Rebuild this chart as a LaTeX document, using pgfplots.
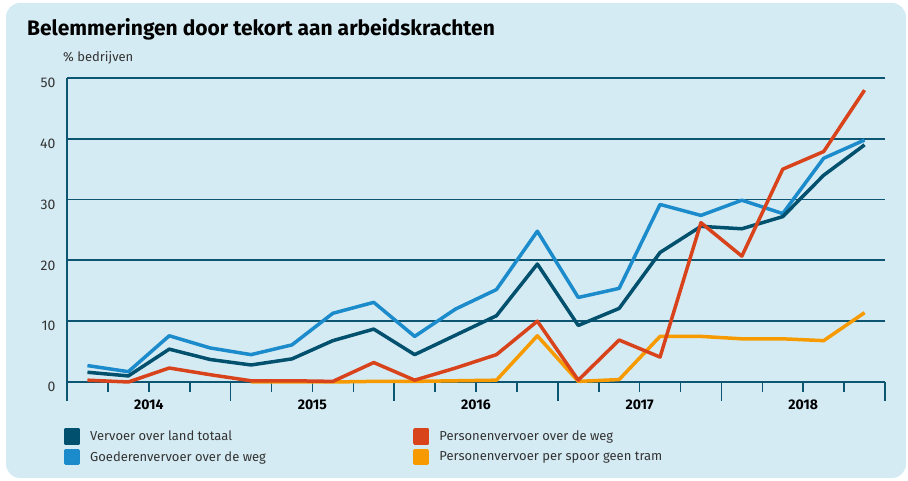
\documentclass[border=0pt]{standalone}
\usepackage{fontspec}
\setmainfont{Fira Sans}
\usepackage{pgfplots}
\pgfplotsset{compat=1.18}
\definecolor{bgc}{HTML}{D5EBF3}
\definecolor{gridc}{HTML}{0D5570}
\definecolor{totc}{HTML}{00506E}
\definecolor{goedc}{HTML}{1B8BCB}
\definecolor{perwc}{HTML}{D8431C}
\definecolor{spoorc}{HTML}{F79A00}
\definecolor{txtc}{HTML}{333333}

% quarters 2014K1 .. 2018K4, plotted at 0.5, 1.5, ...
\pgfplotstableread{
x    tot   goed  perw  spoor
0.5  1.6   2.7   0.3   nan
1.5  1.0   1.7   0.0   nan
2.5  5.4   7.6   2.3   nan
3.5  3.7   5.6   1.2   nan
4.5  2.8   4.5   0.2   0.0
5.5  3.8   6.1   0.2   0.0
6.5  6.8   11.3  0.1   0.0
7.5  8.7   13.1  3.2   0.1
8.5  4.5   7.5   0.3   0.1
9.5  7.7   12.0  2.3   0.2
10.5 10.9  15.2  4.5   0.3
11.5 19.4  24.8  10.0  7.6
12.5 9.3   13.9  0.3   0.1
13.5 12.1  15.4  6.9   0.4
14.5 21.3  29.2  4.1   7.5
15.5 25.6  27.4  26.2  7.5
16.5 25.2  29.9  20.7  7.1
17.5 27.2  27.7  35.0  7.1
18.5 34.0  36.8  37.9  6.8
19.5 39.0  39.8  48.0  11.4
}\quarters

\begin{document}
\begin{tikzpicture}
\useasboundingbox (0pt,0pt) rectangle (908pt,481pt);
\fill[bgc, rounded corners=14pt] (6pt,3pt) rectangle (906pt,478pt);
\node[anchor=west, font=\bfseries\fontsize{21}{25}\selectfont, inner sep=0] at (27pt,452pt) {Belemmeringen door tekort aan arbeidskrachten};
\node[anchor=west, font=\fontsize{13}{15}\selectfont, text=txtc, inner sep=0] at (63pt,423pt) {\% bedrijven};
\begin{axis}[
  at={(67pt,99pt)}, anchor=south west,
  scale only axis, width=818pt, height=304pt,
  xmin=0, xmax=20, ymin=0, ymax=50,
  axis x line=bottom, axis y line=left,
  axis line style={gridc, line width=2pt, -},
  clip=false,
  ytick={0,10,...,50},
  ymajorgrids, grid style={gridc, line width=1.8pt},
  ytick style={draw=none},
  yticklabel style={font=\fontsize{14}{16}\selectfont, text=txtc, xshift=-8pt, yshift=-5pt},
  /pgf/number format/assume math mode=true,
  xtick={2,6,10,14,18},
  xticklabels={2014,2015,2016,2017,2018},
  xticklabel style={font=\bfseries\fontsize{14}{16}\selectfont, text=black, yshift=-14pt},
  major tick length=0pt,
  xtick style={gridc, line width=1.6pt},
  minor xtick={1,2,3,5,6,7,9,10,11,13,14,15,17,18,19},
  minor tick length=10pt,
  extra x ticks={0,4,8,12,16,20},
  extra x tick labels={},
  extra x tick style={major tick length=19pt},
  tick align=outside,
  legend columns=2,
  legend cell align=left,
  legend style={at={(-0.008,-0.145)}, anchor=north west, draw=none, fill=none,
    font=\fontsize{13}{15}\selectfont, text=txtc, row sep=4pt,
    /tikz/every odd column/.style={column sep=8pt},
    /tikz/column 2/.style={column sep=145pt}},
  legend image code/.code={\fill[#1] (0pt,-6.5pt) rectangle (13pt,6.5pt);},
  every axis plot/.append style={line width=3.5pt, line join=round, no markers},
]
\addplot[goedc, forget plot] table[x=x, y=goed] {\quarters};
\addplot[totc, forget plot] table[x=x, y=tot] {\quarters};
\addplot[spoorc, forget plot, unbounded coords=jump] table[x=x, y=spoor] {\quarters};
\addplot[perwc, forget plot] table[x=x, y=perw] {\quarters};
\addlegendimage{totc}
\addlegendimage{perwc}
\addlegendimage{goedc}
\addlegendimage{spoorc}
\legend{Vervoer over land totaal, Personenvervoer over de weg, Goederenvervoer over de weg, Personenvervoer per spoor geen tram}
\end{axis}
\end{tikzpicture}
\end{document}
